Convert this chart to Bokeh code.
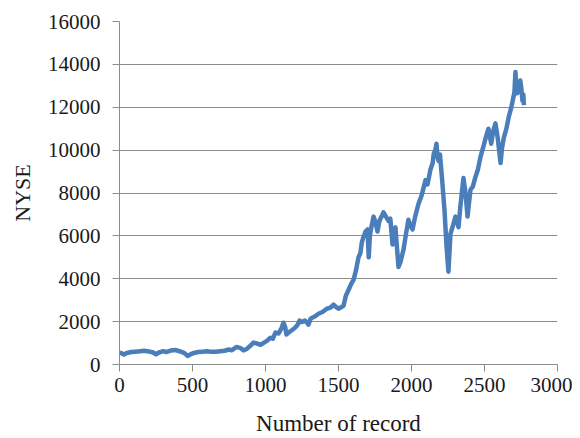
from bokeh.plotting import figure
from bokeh.models import Range1d, FixedTicker, ColumnDataSource
from bokeh.embed import file_html
from bokeh.resources import INLINE

records = [0, 15, 30, 50, 80, 110, 140, 170, 200, 230, 250, 270, 300, 320, 350, 380, 400, 420, 445, 466,
           485, 510, 540, 570, 600, 630, 660, 690, 720, 750, 770, 800, 830, 850, 870, 900, 918, 940, 966, 990,
           1010, 1034, 1050, 1068, 1090, 1110, 1123, 1135, 1143, 1160, 1180, 1200, 1220, 1233, 1250, 1270, 1285,
           1294, 1310, 1340, 1363, 1390, 1420, 1445, 1466, 1480, 1500, 1520, 1535, 1550, 1570, 1590, 1603, 1620,
           1637, 1650, 1660, 1671, 1685, 1699, 1707, 1715, 1725, 1740, 1755, 1767, 1780, 1795, 1808, 1825, 1842,
           1855, 1870, 1880, 1890, 1900, 1911, 1925, 1945, 1960, 1979, 1990, 2007, 2025, 2048, 2070, 2096, 2110,
           2130, 2145, 2153, 2163, 2171, 2178, 2185, 2195, 2210, 2226, 2240, 2253, 2260, 2267, 2285, 2301, 2312,
           2322, 2335, 2356, 2370, 2384, 2395, 2404, 2420, 2438, 2455, 2473, 2490, 2507, 2527, 2546, 2560, 2575,
           2590, 2600, 2610, 2620, 2633, 2650, 2666, 2680, 2690, 2705, 2712, 2718, 2724, 2735, 2745, 2752, 2760,
           2766, 2770]
nyse = [560, 520, 470, 540, 580, 600, 620, 640, 610, 560, 480, 560, 620, 580, 650, 680, 640, 600, 530, 400,
        470, 540, 580, 600, 620, 590, 600, 620, 640, 700, 660, 820, 760, 660, 720, 900, 1020, 980, 920, 1020,
        1100, 1250, 1200, 1490, 1450, 1700, 1950, 1750, 1400, 1500, 1600, 1700, 1850, 2050, 1980, 2050, 1950,
        1860, 2150, 2250, 2370, 2450, 2600, 2650, 2790, 2700, 2600, 2680, 2750, 3200, 3500, 3800, 3950, 4400,
        5000, 5200, 5700, 5950, 6200, 6300, 5000, 6000, 6400, 6900, 6600, 6200, 6700, 6900, 7100, 6900, 6700,
        6800, 5600, 6200, 6400, 5500, 4550, 4800, 5350, 6000, 6750, 6500, 6300, 6900, 7500, 7900, 8600, 8400,
        9100, 9400, 9850, 10000, 10300, 9700, 9500, 9800, 8600, 7200, 5500, 4330, 5200, 6100, 6500, 6900, 6700,
        6400, 7400, 8700, 8000, 6900, 7600, 8150, 8300, 8750, 9100, 9700, 10100, 10550, 11000, 10300, 10900, 11250,
        10600, 10000, 9400, 10100, 10600, 11000, 11550, 11900, 12200, 12700, 13650, 12900, 12650, 12800, 13250, 12900, 12300,
        12600, 12100]

x_ticks = [0, 500, 1000, 1500, 2000, 2500, 3000]
y_ticks = [0, 2000, 4000, 6000, 8000, 10000, 12000, 14000, 16000]
x_title = "Number of record"
y_title = "NYSE"

src = ColumnDataSource(data=dict(x=records, y=nyse))

p = figure(width=572, height=438, output_backend="svg", toolbar_location=None,
           x_range=Range1d(0, 3000), y_range=Range1d(0, 16000),
           min_border_left=119, min_border_right=15, min_border_top=21, min_border_bottom=73)
p.outline_line_color = None
p.background_fill_color = "white"
p.border_fill_color = "white"

p.line("x", "y", source=src, line_color="#4a7ebb", line_width=4.5, line_join="round")

grey = "#8c8c8c"
font = "Liberation Serif"
for ax in (p.xaxis[0], p.yaxis[0]):
    ax.axis_line_color = grey
    ax.major_tick_line_color = grey
    ax.minor_tick_line_color = None
    ax.major_tick_in = 0
    ax.major_tick_out = 7
    ax.major_label_text_font = font
    ax.major_label_text_font_size = "21px"
    ax.major_label_text_color = "#1a1a1a"
    ax.axis_label_text_font = font
    ax.axis_label_text_font_size = "22px"
    ax.axis_label_text_font_style = "normal"
    ax.axis_label_text_color = "#1a1a1a"

p.xaxis[0].ticker = FixedTicker(ticks=x_ticks)
p.yaxis[0].ticker = FixedTicker(ticks=y_ticks)
p.xaxis[0].axis_label = x_title
p.yaxis[0].axis_label = y_title
p.xaxis[0].axis_label_text_font_size = "23px"
p.xaxis[0].major_label_standoff = 6
p.yaxis[0].major_label_standoff = 12
p.xaxis[0].axis_label_standoff = 16
p.yaxis[0].axis_label_standoff = 10

p.xgrid.grid_line_color = None
p.ygrid.grid_line_color = grey
p.ygrid.grid_line_width = 1

open("out.html", "w").write(file_html(p, INLINE))
